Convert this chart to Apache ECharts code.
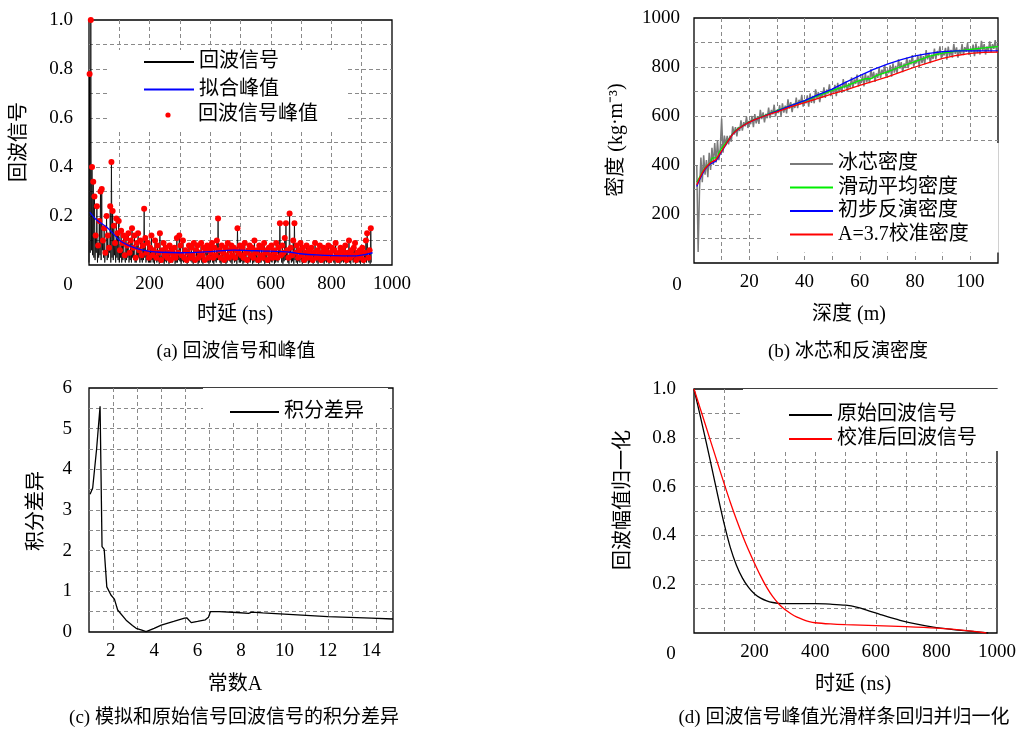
<!DOCTYPE html>
<html><head><meta charset="utf-8">
<script src="https://cdn.jsdelivr.net/npm/echarts@6/dist/echarts.min.js"></script>
<style>html,body{margin:0;padding:0;background:#fff}#c{width:1034px;height:729px}</style>
</head><body><div id="c"></div>
<script>
// ---------- (a) echo signal & peaks (peaks every 4 ns from 2 ns, troughs between) ----------
const peakValues = [
0.78,1.0,0.40,0.34,0.28,0.12,0.24,0.08,0.18,0.30,0.31,0.10,0.15,0.05,0.20,0.12,0.07,0.24,0.42,0.22,0.16,0.09,0.19,0.13,0.18,
0.06,0.14,0.09,0.12,0.04,0.11,0.08,0.13,0.05,0.10,0.15,0.07,0.12,0.03,0.09,0.13,0.06,0.10,0.04,0.08,0.23,0.11,0.05,0.09,0.03,
0.07,0.12,0.04,0.06,0.10,0.03,0.08,0.05,0.13,0.02,0.06,0.09,0.04,0.07,0.03,0.05,0.08,0.02,0.06,0.04,0.07,0.03,0.11,0.05,0.12,
0.08,0.04,0.10,0.03,0.06,0.02,0.05,0.08,0.03,0.07,0.04,0.09,0.02,0.06,0.08,0.03,0.05,0.09,0.04,0.07,0.02,0.06,0.08,0.03,0.07,
0.05,0.09,0.03,0.07,0.04,0.10,0.19,0.06,0.03,0.08,0.05,0.02,0.07,0.04,0.09,0.03,0.06,0.08,0.04,0.07,0.03,0.06,0.15,0.05,0.08,
0.04,0.07,0.03,0.09,0.05,0.02,0.06,0.08,0.04,0.07,0.03,0.10,0.05,0.06,0.02,0.08,0.04,0.07,0.03,0.09,0.05,0.06,0.02,0.07,0.04,
0.08,0.03,0.06,0.05,0.09,0.03,0.07,0.17,0.04,0.08,0.05,0.11,0.17,0.06,0.03,0.21,0.07,0.04,0.10,0.17,0.05,0.08,0.03,0.06,0.09,
0.04,0.07,0.02,0.05,0.08,0.03,0.06,0.04,0.07,0.02,0.05,0.09,0.03,0.06,0.04,0.08,0.02,0.05,0.07,0.03,0.06,0.04,0.08,0.02,0.05,
0.07,0.03,0.06,0.09,0.04,0.02,0.05,0.07,0.03,0.06,0.04,0.08,0.02,0.05,0.10,0.03,0.06,0.04,0.07,0.09,0.02,0.05,0.03,0.06,0.04,
0.07,0.02,0.05,0.10,0.13,0.03,0.06,0.15];
const troughValues = [
0.05,0.06,0.04,0.03,0.02,0.05,0.01,0.03,0.04,0.02,0.06,0.03,0.01,0.04,0.02,0.03,0.05,0.01,0.03,0.02,0.04,0.01,0.03,0.02,0.01,
0.03,0.01,0.02,0.04,0.01,0.02,0.03,0.01,0.02,0.01,0.03,0.02,0.01,0.01,0.02,0.03,0.01,0.02,0.01,0.02,0.03,0.01,0.02,0.01,0.01,
0.01,0.02,0.01,0.005,0.02,0.01,0.015,0.005,0.01,0.02,0.01,0.005,0.015,0.01,0.02,0.005,0.01,0.015,0.01,0.02,0.005,0.01,0.01,0.02,0.015,
0.005,0.015,0.01,0.02,0.01,0.005,0.01,0.02,0.015,0.01,0.005,0.02,0.01,0.015,0.005,0.01,0.02,0.01,0.005,0.015,0.01,0.02,0.01,0.005,0.01,
0.02,0.01,0.005,0.015,0.01,0.02,0.03,0.01,0.005,0.015,0.02,0.01,0.005,0.01,0.02,0.015,0.01,0.005,0.02,0.01,0.015,0.005,0.02,0.01,0.01,
0.015,0.005,0.01,0.02,0.01,0.005,0.015,0.01,0.02,0.005,0.01,0.015,0.01,0.02,0.005,0.01,0.01,0.02,0.015,0.005,0.01,0.02,0.01,0.005,0.015,
0.01,0.02,0.005,0.01,0.015,0.01,0.02,0.03,0.01,0.005,0.015,0.02,0.03,0.01,0.005,0.02,0.01,0.015,0.005,0.02,0.01,0.005,0.015,0.01,0.02,
0.005,0.01,0.015,0.01,0.02,0.005,0.01,0.02,0.015,0.005,0.01,0.02,0.01,0.005,0.015,0.01,0.02,0.01,0.005,0.015,0.01,0.02,0.005,0.01,0.01,
0.02,0.01,0.005,0.015,0.01,0.02,0.005,0.01,0.015,0.01,0.02,0.005,0.01,0.015,0.01,0.005,0.02,0.01,0.015,0.005,0.01,0.02,0.01,0.005,0.015,
0.01,0.005,0.02,0.01,0.03,0.01,0.005,0.01];
const fitTime   = [3,20,40,57,80,101,130,167,200,234,300,400,477,577,665,698,750,808,874,910,936];
const fitValues = [0.215,0.19,0.17,0.156,0.128,0.10,0.08,0.064,0.056,0.052,0.05,0.055,0.061,0.057,0.052,0.046,0.041,0.038,0.037,0.042,0.05];

// ---------- (b) density (gray: every 0.5 m from 1 m) ----------
const grayDensity = [
400,45,300,430,330,440,360,420,350,450,380,470,400,490,410,500,420,470,590,450,520,480,
519,484,520,495,558,524,555,517,555,539,582,540,575,558,598,551,580,567,600,554,
608,570,599,568,625,587,615,574,609,591,634,591,625,607,646,598,625,612,644,598,
652,614,642,611,668,630,657,616,651,633,675,632,666,648,686,638,665,652,684,638,
692,654,682,652,709,671,698,657,693,675,717,674,708,691,729,681,708,695,727,681,
735,697,725,694,751,713,740,699,734,716,758,715,749,731,769,721,748,735,767,721,
775,737,765,734,791,753,780,739,774,756,798,755,789,771,809,761,788,775,807,761,
815,777,805,774,831,793,820,779,814,796,838,795,829,811,849,801,828,815,847,800,
854,816,844,812,869,831,858,816,851,833,875,831,865,847,884,835,861,847,878,830,
883,844,870,838,894,854,880,838,871,852,893,848,881,862,898,849,875,861,891,844,
896,857,884,851,907,867,893,851,884,865,905,861,893,874,910,861,886];
const greenDepth   = [1,2,3,4,5,6,6.5,8.5,9,10,11,12,13,14,15,16,18,20,25,30,35,40,45,50,55,60,62,64,66,70,75,80,85,90,95,100,105,110];
const greenDensity = [330,350,370,388,400,410,428,430,450,468,483,497,512,528,540,550,563,577,600,622,642,662,683,705,722,745,752,752,765,780,802,822,843,857,865,872,878,883];
const blueDepth    = [1,2,3,4,5,6,7,8,9,10,11,12,13,14,15,16,18,20,22,25,28,30,35,40,45,50,55,60,65,70,75,80,85,90,95,100,110];
const blueDensity  = [312,340,362,383,396,405,410,417,435,455,473,492,510,526,537,547,562,575,585,598,612,620,642,663,687,710,738,765,790,812,830,845,856,863,866,866,866];
const redDepth     = [1,2,3,4,5,6,7,8,9,10,11,12,13,14,15,16,18,20,22,25,28,30,35,40,45,50,55,60,65,70,75,80,85,90,95,100,105,110];
const redDensity   = [318,345,368,386,398,410,416,422,440,458,475,492,510,526,537,547,562,575,585,598,610,617,637,655,672,690,707,725,742,760,780,800,818,835,847,856,860,861];

// ---------- (c) integral difference ----------
const constA       = [1.05,1.17,1.35,1.51,1.6,1.7,1.82,2.01,2.17,2.32,2.71,3.0,3.17,3.4,3.63,4.0,4.33,4.9,5.4,5.5,5.71,6.0,6.36,6.5,6.59,7.0,7.8,8.35,8.5,9.0,10.0,11.0,12.0,13.0,14.0,15.0];
const integralDiff = [3.39,3.54,4.5,5.55,2.1,2.03,1.11,0.91,0.81,0.54,0.29,0.16,0.09,0.05,0.01,0.09,0.17,0.26,0.34,0.35,0.23,0.26,0.30,0.36,0.50,0.50,0.48,0.46,0.49,0.47,0.44,0.41,0.38,0.36,0.34,0.32];

// ---------- (d) normalized smoothed peaks ----------
const origTime = [0,20,40,60,80,100,120,140,160,180,200,220,240,260,280,300,350,400,450,500,540,570,620,680,740,790,850,900,940,971];
const origNorm = [1.0,0.893,0.783,0.67,0.555,0.445,0.35,0.278,0.225,0.187,0.16,0.143,0.132,0.125,0.121,0.12,0.12,0.12,0.118,0.114,0.105,0.094,0.074,0.052,0.035,0.024,0.015,0.009,0.004,0.0];
const calTime  = [0,20,40,60,80,100,120,140,160,180,200,220,240,260,280,300,320,340,360,380,400,450,500,600,700,800,900,965];
const calNorm  = [1.0,0.922,0.844,0.766,0.688,0.61,0.535,0.465,0.40,0.34,0.285,0.233,0.187,0.149,0.119,0.096,0.079,0.065,0.055,0.047,0.042,0.037,0.034,0.030,0.026,0.02,0.01,0.0];

// ---------- tick labels ----------
const ticksAx = [200,400,600,800,1000];
const ticksAy = ['0.2','0.4','0.6','0.8','1.0'];
const ticksBx = [20,40,60,80,100];
const ticksBy = [200,400,600,800,1000];
const ticksCx = [2,4,6,8,10,12,14];
const ticksCy = [0,1,2,3,4,5,6];
const ticksDx = [200,400,600,800,1000];
const ticksDy = ['0.2','0.4','0.6','0.8','1.0'];

const FONT = "'Liberation Serif','Noto Sans CJK SC',serif";
const intFmt = list => v => list.includes(Math.round(v)) && Math.abs(v-Math.round(v))<1e-6 ? String(Math.round(v)) : '';
const decFmt = list => v => { const s = v.toFixed(1); return list.includes(s) ? s : ''; };
const split = {show:true, showMinLine:false, showMaxLine:false, lineStyle:{color:'#8a8a8a', width:1, type:[4,3]}};
function ax(grid, min, max, interval, fmt, margin, extra){
  return Object.assign({gridIndex:grid, type:'value', min, max, interval,
    axisLine:{show:false}, axisTick:{show:false}, splitLine:split,
    axisLabel:{color:'#000', fontSize:19, fontFamily:FONT, margin, formatter:fmt}}, extra||{});
}

const echoData = [[0,0.01]];
peakValues.forEach((v,i)=>{ echoData.push([2+4*i, v]); echoData.push([4+4*i, troughValues[i]]); });
const peakData = peakValues.map((v,i)=>[2+4*i, v]);
const zip = (a,b)=>a.map((x,i)=>[x,b[i]]);
const grayData = grayDensity.map((v,i)=>[1+0.5*i, v]);

const legendText = {fontSize:20, fontFamily:FONT, color:'#000'};
function lg(data, left, top, w, h, gap, pad){
  return {data, orient:'vertical', left, top, itemWidth:w, itemHeight:h, itemGap:gap, padding:pad,
    backgroundColor:'#fff', textStyle:legendText, selectedMode:false};
}
function T(text, x, y, size, rot){
  return {type:'text', x, y, rotation: rot||0, z:10,
    style:{text, font: size+"px "+FONT, fill:'#000', align:'center', verticalAlign:'middle', textAlign:'center', textVerticalAlign:'middle'}};
}

const chart = echarts.init(document.getElementById('c'), null, {renderer:'canvas'});
chart.setOption({
  animation:false,
  backgroundColor:'#fff',
  grid:[
    {left:89, top:20, width:303, height:245, show:true, borderColor:'#000', borderWidth:1.3, backgroundColor:'transparent'},
    {left:694, top:18, width:304, height:245, show:true, borderColor:'#000', borderWidth:1.3, backgroundColor:'transparent'},
    {left:89, top:388, width:304, height:244, show:true, borderColor:'#000', borderWidth:1.3, backgroundColor:'transparent'},
    {left:694, top:389, width:303, height:244, show:true, borderColor:'#000', borderWidth:1.3, backgroundColor:'transparent'}
  ],
  xAxis:[
    ax(0,0,1000,100,intFmt(ticksAx),10),
    ax(1,0,110,10,intFmt(ticksBx),10),
    ax(2,1,15,1,intFmt(ticksCx),10,{splitLine:{show:false}}),
    ax(3,0,1000,100,intFmt(ticksDx),10),
    ax(2,0,12.68,1,()=> '',10,{position:'top', axisLabel:{show:false}})
  ],
  yAxis:[
    ax(0,0,1,0.1,decFmt(ticksAy),16),
    ax(1,0,1000,100,intFmt(ticksBy),14),
    ax(2,0,6,0.5,intFmt(ticksCy),17),
    ax(3,0,1,0.1,decFmt(ticksDy),18)
  ],
  legend:[
    lg(['回波信号','拟合峰值'], 107, 50, 50, 0.1, 7.5, [2,69,1,36]),
    lg(['回波信号峰值'], 107, 99, 50, 6.5, 0, [6,29,7,36]),
    lg(['冰芯密度','滑动平均密度','初步反演密度','A=3.7校准密度'], 763, 143, 43, 0.1, 3.5, [11,30,8,26]),
    lg(['积分差异'], 203, 388, 49, 0.1, 0, [14,24,0,26]),
    lg(['原始回波信号','校准后回波信号'], 743, 389, 43, 0.1, 4, [16,39,2,45])
  ],
  series:[
    {name:'回波信号', type:'line', z:2, xAxisIndex:0, yAxisIndex:0, data:echoData, symbol:'none', lineStyle:{color:'#000', width:0.8}, itemStyle:{color:'#000'}},
    {name:'回波信号峰值', type:'line', z:3, xAxisIndex:0, yAxisIndex:0, data:peakData, symbol:'circle', symbolSize:6, showSymbol:true, showAllSymbol:true,
      lineStyle:{width:0, opacity:0}, itemStyle:{color:'#ff0000', borderWidth:0}},
    {name:'拟合峰值', type:'line', z:4, xAxisIndex:0, yAxisIndex:0, data:zip(fitTime,fitValues), smooth:0.3, symbol:'none', lineStyle:{color:'#0000ff', width:1.3}, itemStyle:{color:'#0000ff'}},

    {name:'冰芯密度', type:'line', xAxisIndex:1, yAxisIndex:1, data:grayData, symbol:'none', lineStyle:{color:'#7a7a7a', width:1.5}, itemStyle:{color:'#7a7a7a'}},
    {name:'滑动平均密度', type:'line', xAxisIndex:1, yAxisIndex:1, data:zip(greenDepth,greenDensity), symbol:'none', lineStyle:{color:'#00ee00', width:1.3}, itemStyle:{color:'#00ee00'}},
    {name:'初步反演密度', type:'line', xAxisIndex:1, yAxisIndex:1, data:zip(blueDepth,blueDensity), symbol:'none', lineStyle:{color:'#0000ff', width:1.3}, itemStyle:{color:'#0000ff'}},
    {name:'A=3.7校准密度', type:'line', xAxisIndex:1, yAxisIndex:1, data:zip(redDepth,redDensity), symbol:'none', lineStyle:{color:'#ff0000', width:1.3}, itemStyle:{color:'#ff0000'}},

    {name:'积分差异', type:'line', xAxisIndex:2, yAxisIndex:2, data:zip(constA,integralDiff), symbol:'none', lineStyle:{color:'#000', width:1.3}, itemStyle:{color:'#000'}},

    {name:'原始回波信号', type:'line', xAxisIndex:3, yAxisIndex:3, data:zip(origTime,origNorm), smooth:0.3, symbol:'none', lineStyle:{color:'#000', width:1.3}, itemStyle:{color:'#000'}},
    {name:'校准后回波信号', type:'line', xAxisIndex:3, yAxisIndex:3, data:zip(calTime,calNorm), smooth:0.3, symbol:'none', lineStyle:{color:'#ff0000', width:1.3}, itemStyle:{color:'#ff0000'}}
  ],
  graphic:[
    T('0',68,285,19), T('0',677,285,19), T('0',671,654,19),
    T('时延 (ns)',235,315,20), T('深度 (m)',849,315,20), T('常数A',235,685,20), T('时延 (ns)',853,685,20),
    T('回波信号',20,142,20,Math.PI/2), T('密度 (kg·m⁻³)',617,140,20,Math.PI/2),
    T('积分差异',37,511,20,Math.PI/2), T('回波幅值归一化',624,500,20,Math.PI/2),
    T('(a) 回波信号和峰值',236,352,19), T('(b) 冰芯和反演密度',848,352,19),
    T('(c) 模拟和原始信号回波信号的积分差异',234,718,19), T('(d) 回波信号峰值光滑样条回归并归一化',844,718,19)
  ]
});
</script></body></html>
